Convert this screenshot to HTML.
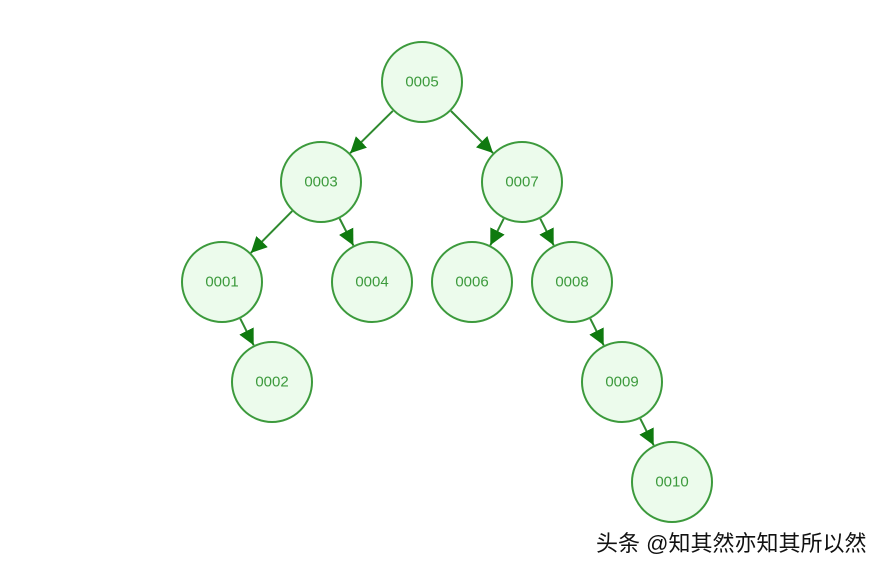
<!DOCTYPE html>
<html><head><meta charset="utf-8"><style>
html,body{margin:0;padding:0;background:#fff;width:888px;height:570px;overflow:hidden}
svg{display:block}
.n{fill:#ecfbec;stroke:#3c9a3c;stroke-width:2}
.t{font-family:"Liberation Sans",sans-serif;font-size:15px;fill:#3c9a3c;text-anchor:middle;dominant-baseline:central}
.e{stroke:#2f8a2f;stroke-width:2;marker-end:url(#a)}
</style></head><body>
<svg width="888" height="570" viewBox="0 0 888 570">
<defs><marker id="a" markerUnits="userSpaceOnUse" markerWidth="18" markerHeight="16" refX="16" refY="8" orient="auto"><path d="M0,0 L16,8 L0,16 z" fill="#0f7a0f"/></marker></defs>
<line class="e" x1="392.8" y1="110.9" x2="350.1" y2="153.2"/>
<line class="e" x1="451" y1="111" x2="493" y2="153"/>
<line class="e" x1="292.2" y1="211.1" x2="250.8" y2="252.9"/>
<line class="e" x1="339.6" y1="218.5" x2="353.4" y2="245.5"/>
<line class="e" x1="503.7" y1="218.7" x2="490.3" y2="245.3"/>
<line class="e" x1="540.3" y1="218.7" x2="553.7" y2="245.3"/>
<line class="e" x1="240.3" y1="318.7" x2="253.7" y2="345.3"/>
<line class="e" x1="590.3" y1="318.7" x2="603.7" y2="345.3"/>
<line class="e" x1="640.3" y1="418.7" x2="653.7" y2="445.3"/>
<g>
<circle class="n" cx="422" cy="82" r="40"/><text class="t" x="422" y="82">0005</text>
<circle class="n" cx="321" cy="182" r="40"/><text class="t" x="321" y="182">0003</text>
<circle class="n" cx="522" cy="182" r="40"/><text class="t" x="522" y="182">0007</text>
<circle class="n" cx="222" cy="282" r="40"/><text class="t" x="222" y="282">0001</text>
<circle class="n" cx="372" cy="282" r="40"/><text class="t" x="372" y="282">0004</text>
<circle class="n" cx="472" cy="282" r="40"/><text class="t" x="472" y="282">0006</text>
<circle class="n" cx="572" cy="282" r="40"/><text class="t" x="572" y="282">0008</text>
<circle class="n" cx="272" cy="382" r="40"/><text class="t" x="272" y="382">0002</text>
<circle class="n" cx="622" cy="382" r="40"/><text class="t" x="622" y="382">0009</text>
<circle class="n" cx="672" cy="482" r="40"/><text class="t" x="672" y="482">0010</text>
</g>
<text x="596" y="551" style="font-family:'Liberation Sans','Noto Sans CJK SC',sans-serif;font-size:22px;fill:#111">头条 @知其然亦知其所以然</text>
</svg>
</body></html>
